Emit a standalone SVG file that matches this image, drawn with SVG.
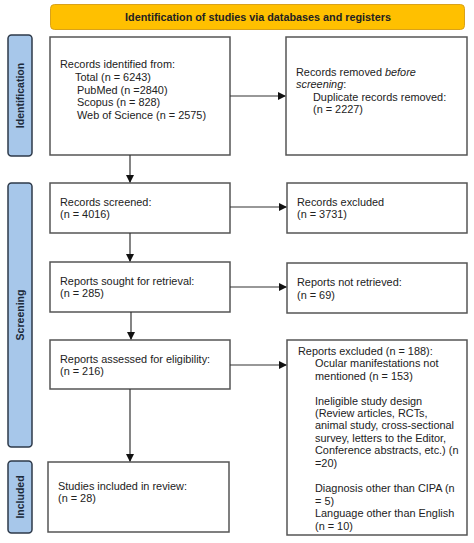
<svg xmlns="http://www.w3.org/2000/svg" width="474" height="543" viewBox="0 0 474 543">
<defs>
<marker id="ah" markerWidth="8" markerHeight="8" refX="7" refY="4" orient="auto" markerUnits="userSpaceOnUse">
<path d="M0,0 L8,4 L0,8 Z" fill="#111"/>
</marker>
<style>
.box{fill:#fff;stroke:#555;stroke-width:1.5}
.side{fill:#a7c7ea;stroke:#2e3a4a;stroke-width:1.5}
.t{font-family:"Liberation Sans",Arial,sans-serif;font-size:10.9px;fill:#222}
.st{font-family:"Liberation Sans",Arial,sans-serif;font-size:10.5px;font-weight:bold;fill:#1c2a3a}
.c{stroke:#333;stroke-width:1.2;fill:none;marker-end:url(#ah)}
</style>
</defs>
<rect width="474" height="543" fill="#fff"/>
<g id="banner">
<rect x="50.5" y="4.5" width="414" height="25" rx="4" fill="#ffc000" stroke="#d9a21a" stroke-width="1"/>
<text x="258" y="20.5" text-anchor="middle" class="st" style="font-size:10.8px;fill:#222">Identification of studies via databases and registers</text>
</g>
<g id="side-identification">
<rect x="8" y="35" width="24" height="121" rx="3.5" class="side"/>
<text transform="translate(24,95.5) rotate(-90)" text-anchor="middle" class="st">Identification</text>
</g>
<g id="side-screening">
<rect x="8" y="183" width="24" height="264" rx="3.5" class="side"/>
<text transform="translate(24,315) rotate(-90)" text-anchor="middle" class="st">Screening</text>
</g>
<g id="side-included">
<rect x="8" y="461" width="24" height="72" rx="3.5" class="side"/>
<text transform="translate(24,497) rotate(-90)" text-anchor="middle" class="st">Included</text>
</g>
<g id="n-identified">
<rect x="50" y="37" width="180" height="118" class="box"/>
<text class="t" x="60" y="68">Records identified from:</text>
<text class="t" x="75" y="81">Total (n = 6243)</text>
<text class="t" x="77" y="93.5">PubMed (n =2840)</text>
<text class="t" x="77" y="106">Scopus (n = 828)</text>
<text class="t" x="77" y="119">Web of Science (n = 2575)</text>
</g>
<g id="n-removed">
<rect x="286" y="37" width="181" height="118" class="box"/>
<text class="t" x="296" y="75.5">Records removed <tspan font-style="italic">before</tspan></text>
<text class="t" x="296" y="88"><tspan font-style="italic">screening</tspan>:</text>
<text class="t" x="313" y="100.5">Duplicate records removed:</text>
<text class="t" x="313" y="113">(n = 2227)</text>
</g>
<g id="n-screened">
<rect x="50" y="183" width="180" height="50" class="box"/>
<text class="t" x="60" y="205.5">Records screened:</text>
<text class="t" x="60" y="218">(n = 4016)</text>
</g>
<g id="n-excluded">
<rect x="287" y="183" width="180" height="50" class="box"/>
<text class="t" x="297" y="205.5">Records excluded</text>
<text class="t" x="297" y="218">(n = 3731)</text>
</g>
<g id="n-sought">
<rect x="50" y="262" width="180" height="50" class="box"/>
<text class="t" x="60" y="284.5">Reports sought for retrieval:</text>
<text class="t" x="60" y="297">(n = 285)</text>
</g>
<g id="n-notretrieved">
<rect x="287" y="263" width="180" height="50" class="box"/>
<text class="t" x="297" y="286">Reports not retrieved:</text>
<text class="t" x="297" y="298.5">(n = 69)</text>
</g>
<g id="n-assessed">
<rect x="50" y="340" width="180" height="49" class="box"/>
<text class="t" x="60" y="362.5">Reports assessed for eligibility:</text>
<text class="t" x="60" y="375">(n = 216)</text>
</g>
<g id="n-reportsexcluded">
<rect x="287" y="340" width="180" height="195" class="box"/>
<text class="t" x="298" y="354.5">Reports excluded (n = 188):</text>
<text class="t" x="315" y="367">Ocular manifestations not</text>
<text class="t" x="315" y="379.5">mentioned (n = 153)</text>
<text class="t" x="315" y="405">Ineligible study design</text>
<text class="t" x="315" y="417">(Review articles, RCTs,</text>
<text class="t" x="315" y="429">animal study, cross-sectional</text>
<text class="t" x="315" y="441.5">survey, letters to the Editor,</text>
<text class="t" x="315" y="454">Conference abstracts, etc.) (n</text>
<text class="t" x="315" y="466.5">=20)</text>
<text class="t" x="315" y="492">Diagnosis other than CIPA (n</text>
<text class="t" x="315" y="504.5">= 5)</text>
<text class="t" x="315" y="517">Language other than English</text>
<text class="t" x="315" y="529.5">(n = 10)</text>
</g>
<g id="n-included">
<rect x="48" y="462" width="181" height="70" class="box"/>
<text class="t" x="58" y="489.5">Studies included in review:</text>
<text class="t" x="58" y="502">(n = 28)</text>
</g>
<g id="connectors">
<line x1="130" y1="155" x2="130" y2="182" class="c"/>
<line x1="230" y1="96" x2="285" y2="96" class="c"/>
<line x1="130" y1="233" x2="130" y2="261" class="c"/>
<line x1="230" y1="207" x2="286" y2="207" class="c"/>
<line x1="131" y1="312" x2="131" y2="339" class="c"/>
<line x1="230" y1="287" x2="286" y2="287" class="c"/>
<line x1="130" y1="389" x2="130" y2="461" class="c"/>
<line x1="230" y1="365" x2="286" y2="365" class="c"/>
</g>
</svg>
